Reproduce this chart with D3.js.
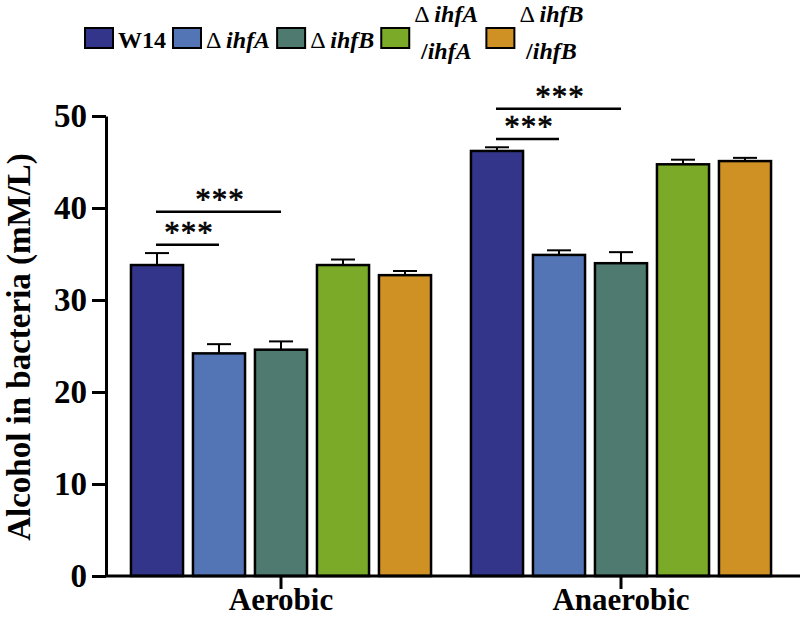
<!DOCTYPE html>
<html>
<head>
<meta charset="utf-8">
<script src="https://cdn.jsdelivr.net/npm/d3@7/dist/d3.min.js"></script>
<style>
body { margin: 0; background: #fff; }
text { font-family: "Liberation Serif", "Times New Roman", serif; }
</style>
</head>
<body>
<svg id="chart" width="800" height="618"></svg>
<script>
// data
var conditions = ["Aerobic", "Anaerobic"]
var strains = ["W14", "Δ ihfA", "Δ ihfB", "Δ ihfA\n/ihfA", "Δ ihfB\n/ihfB"]
var colors = ["#33358a", "#5475b5", "#4e7a6f", "#7aaa28", "#cf9124"]
var aerobicMean = [33.8, 24.2, 24.6, 33.8, 32.7]
var aerobicErr = [1.3, 1.0, 0.9, 0.6, 0.45]
var anaerobicMean = [46.2, 34.9, 34.0, 44.75, 45.1]
var anaerobicErr = [0.4, 0.5, 1.2, 0.5, 0.35]
var yTicks = [0, 10, 20, 30, 40, 50]
// significance brackets
var sigCondition = ["Aerobic", "Aerobic", "Anaerobic", "Anaerobic"]
var sigFrom = [0, 0, 0, 0]
var sigTo = [1, 2, 1, 2]
var sigY = [36.0, 39.6, 47.5, 50.8]
var sigLabel = ["***", "***", "***", "***"]

var width = 800
var height = 618
var svg = d3.select("#chart")

var y = d3.scaleLinear()
	.domain([0, 50])
	.range([576, 116])
var x = d3.scaleBand()
	.domain(conditions)
	.range([111, 791])
	.padding(0)
var xInner = d3.scaleBand()
	.domain(d3.range(strains.length))
	.range([15, x.bandwidth() - 15])
	.paddingInner(0.16)
	.paddingOuter(0.08)

var bars = []
conditions.forEach((c, ci) => {
	var m = ci === 0 ? aerobicMean : anaerobicMean
	var e = ci === 0 ? aerobicErr : anaerobicErr
	strains.forEach((s, si) => {
		bars.push({ cond: c, i: si, mean: m[si], err: e[si] })
	})
})
var barX = d => x(d.cond) + xInner(d.i)
var barMid = (c, i) => x(c) + xInner(i) + xInner.bandwidth() / 2

// error bars (upper only) drawn under the bars
var errG = svg.append("g")
errG.selectAll("line.stem").data(bars).enter().append("line")
	.attr("x1", d => barMid(d.cond, d.i))
	.attr("x2", d => barMid(d.cond, d.i))
	.attr("y1", d => y(d.mean))
	.attr("y2", d => y(d.mean + d.err))
	.style("stroke", "#000")
	.style("stroke-width", 2)
errG.selectAll("line.cap").data(bars).enter().append("line")
	.attr("x1", d => barMid(d.cond, d.i) - 12)
	.attr("x2", d => barMid(d.cond, d.i) + 12)
	.attr("y1", d => y(d.mean + d.err))
	.attr("y2", d => y(d.mean + d.err))
	.style("stroke", "#000")
	.style("stroke-width", 2)

svg.append("g").selectAll("rect").data(bars).enter().append("rect")
	.attr("x", barX)
	.attr("width", xInner.bandwidth())
	.attr("y", d => y(d.mean))
	.attr("height", d => y(0) - y(d.mean))
	.attr("fill", d => colors[d.i])
	.style("stroke", "#000")
	.style("stroke-width", 2.5)

// axes
var yAxis = svg.append("g")
	.attr("transform", "translate(106,0)")
	.call(d3.axisLeft(y).tickValues(yTicks).tickSize(14).tickSizeOuter(0).tickPadding(5))
yAxis.selectAll("line").style("stroke-width", 3)
yAxis.select(".domain").style("stroke-width", 3)
yAxis.selectAll("text")
	.style("font-size", "33px")
	.style("font-weight", "bold")
	.attr("fill", "#000")

var xAxis = svg.append("g")
	.attr("transform", "translate(0," + y(0) + ")")
	.call(d3.axisBottom(x).tickSize(13).tickSizeOuter(0).tickPadding(-1))
xAxis.select(".domain")
	.attr("d", "M" + 105 + ",0H" + width)
	.style("stroke-width", 3)
xAxis.selectAll("line").style("stroke-width", 3)
xAxis.selectAll("text")
	.style("font-size", "31px")
	.style("font-weight", "bold")
	.attr("fill", "#000")

svg.append("text")
	.attr("transform", "translate(30," + 347 + ") rotate(-90)")
	.attr("text-anchor", "middle")
	.style("font-size", "33px")
	.style("font-weight", "bold")
	.text("Alcohol in bacteria (mM/L)")

// significance brackets
var sig = sigY.map((v, k) => ({ cond: sigCondition[k], a: sigFrom[k], b: sigTo[k], y: v, label: sigLabel[k] }))
var sigG = svg.append("g")
sigG.selectAll("line").data(sig).enter().append("line")
	.attr("x1", d => barMid(d.cond, d.a) - 1)
	.attr("x2", d => barMid(d.cond, d.b))
	.attr("y1", d => y(d.y))
	.attr("y2", d => y(d.y))
	.style("stroke", "#000")
	.style("stroke-width", 2.5)
sigG.selectAll("text").data(sig).enter().append("text")
	.attr("x", d => (barMid(d.cond, d.a) + barMid(d.cond, d.b)) / 2 + 1)
	.attr("y", d => y(d.y) - 2)
	.attr("text-anchor", "middle")
	.style("font-size", "31px")
	.style("letter-spacing", "1px")
	.style("stroke", "#000")
	.style("stroke-width", 0.6)
	.text(d => d.label)

// legend
var legend = svg.append("g")
var cursor = 85
var addRuns = (textSel, line) => {
	line.split(/(ihf[AB])/).filter(t => t !== "").forEach(t => {
		var ts = textSel.append("tspan").text(t)
		if (/ihf/.test(t)) ts.style("font-style", "italic").style("font-weight", "bold")
		else if (/Δ/.test(t)) ts.style("font-weight", "normal")
		else ts.style("font-weight", "bold")
	})
}
strains.forEach((s, i) => {
	legend.append("rect")
		.attr("x", cursor)
		.attr("y", 28)
		.attr("width", 28)
		.attr("height", 20)
		.attr("fill", colors[i])
		.style("stroke", "#000")
		.style("stroke-width", 2)
	cursor += 33
	var lines = s.split("\n")
	if (lines.length === 1) {
		var t = legend.append("text")
			.attr("x", cursor)
			.attr("y", 48)
			.style("font-size", "24px")
		addRuns(t, lines[0])
		cursor += t.node().getComputedTextLength() + 7
	} else {
		var ts = lines.map((l, k) => {
			var t = legend.append("text")
				.attr("y", k === 0 ? 22 : 59)
				.attr("text-anchor", "middle")
				.style("font-size", "24px")
			addRuns(t, l)
			return t
		})
		var w = d3.max(ts, t => t.node().getComputedTextLength())
		ts.forEach(t => t.attr("x", cursor + w / 2))
		cursor += w + 8
	}
})
</script>
</body>
</html>
